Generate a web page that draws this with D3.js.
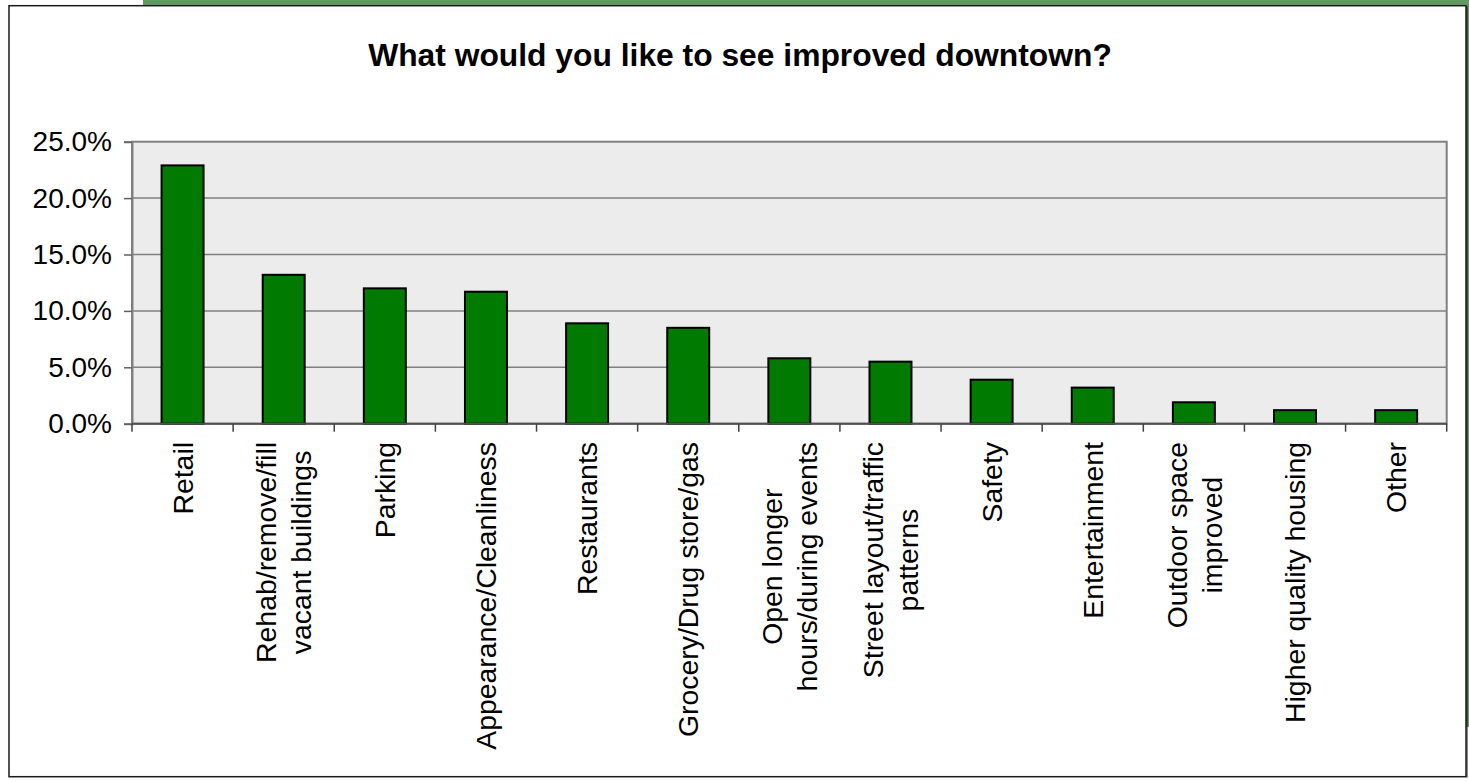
<!DOCTYPE html>
<html>
<head>
<meta charset="utf-8">
<script src="https://cdn.jsdelivr.net/npm/d3@7"></script>
<style>
  html, body { margin: 0; padding: 0; background: #ffffff; }
  svg { display: block; }
  text { font-family: "Liberation Sans", Arial, Helvetica, sans-serif; fill: #000; }
</style>
</head>
<body>
<svg id="chart" width="1469" height="782"></svg>
<script>
// ---- data ----
const title = "What would you like to see improved downtown?";
const categories = [
  "Retail",
  "Rehab/remove/fill\nvacant buildings",
  "Parking",
  "Appearance/Cleanliness",
  "Restaurants",
  "Grocery/Drug store/gas",
  "Open longer\nhours/during events",
  "Street layout/traffic\npatterns",
  "Safety",
  "Entertainment",
  "Outdoor space\nimproved",
  "Higher quality housing",
  "Other"
];
const values = [22.9, 13.2, 12.0, 11.7, 8.9, 8.5, 5.8, 5.5, 3.9, 3.2, 1.9, 1.2, 1.2];
const yTicks = [0, 5, 10, 15, 20, 25];

// ---- layout ----
const svg = d3.select("#chart");
const plot = { left: 132, top: 141.7, right: 1446.7, bottom: 423.7 };

// green background strip behind the white chart frame
svg.append("rect").attr("x", 143).attr("y", 0).attr("width", 1326).attr("height", 727)
  .attr("fill", "#619a61");
// white chart frame
svg.append("rect").attr("x", 9).attr("y", 5.7).attr("width", 1457).attr("height", 771)
  .attr("fill", "#ffffff").attr("stroke", "#1a1a1a").attr("stroke-width", 1.5);
svg.append("line").attr("x1", 1467).attr("x2", 1467).attr("y1", 6.5).attr("y2", 777.5)
  .attr("stroke", "#1a1a1a").attr("stroke-width", 1);

const x = d3.scaleBand().domain(categories).range([plot.left, plot.right]).padding(0);
const y = d3.scaleLinear().domain([0, 25]).range([plot.bottom, plot.top]);
const barFrac = 0.415;

// plot background
svg.append("rect").attr("x", plot.left).attr("y", plot.top)
  .attr("width", plot.right - plot.left).attr("height", plot.bottom - plot.top)
  .attr("fill", "#ececec").attr("stroke", "#808080").attr("stroke-width", 2);

// gridlines
svg.append("g").selectAll("line").data(yTicks.filter(d => d > 0 && d < 25)).join("line")
  .attr("x1", plot.left).attr("x2", plot.right)
  .attr("y1", d => y(d)).attr("y2", d => y(d))
  .attr("stroke", "#808080").attr("stroke-width", 1.5);

// bars
svg.append("g").selectAll("rect").data(values).join("rect")
  .attr("x", (d, i) => x(categories[i]) + x.bandwidth() * (1 - barFrac) / 2)
  .attr("width", x.bandwidth() * barFrac)
  .attr("y", d => y(d))
  .attr("height", d => y(0) - y(d))
  .attr("fill", "#007a00").attr("stroke", "#000").attr("stroke-width", 2);

// y axis
const yAxis = d3.axisLeft(y).tickValues(yTicks).tickSize(8).tickPadding(12)
  .tickFormat(d => d3.format(".1f")(d) + "%");
const gy = svg.append("g").attr("transform", `translate(${plot.left},0)`).call(yAxis);
gy.select(".domain").attr("stroke", "#808080").attr("stroke-width", 2);
gy.selectAll(".tick line").attr("stroke", "#606060").attr("stroke-width", 1.5);
gy.selectAll(".tick text").attr("font-size", 28).attr("font-family", '"Liberation Sans", Arial, sans-serif')
  .attr("fill", "#000");

// x axis line and ticks at category boundaries
const boundaries = categories.map(c => x(c)).concat([plot.right]);
svg.append("line").attr("x1", plot.left).attr("x2", plot.right)
  .attr("y1", y(0)).attr("y2", y(0)).attr("stroke", "#505050").attr("stroke-width", 2);
svg.append("g").selectAll("line").data(boundaries).join("line")
  .attr("x1", d => d).attr("x2", d => d)
  .attr("y1", y(0)).attr("y2", y(0) + 8)
  .attr("stroke", "#404040").attr("stroke-width", 1.5);

// category labels, rotated
const labelTop = 442;
const lineGap = 35;
categories.forEach((c, i) => {
  const lines = c.split("\n");
  const cx = x(c) + x.bandwidth() / 2;
  const g = svg.append("g").attr("transform", `translate(${cx},${labelTop}) rotate(-90)`);
  const texts = lines.map((ln, j) => g.append("text")
    .attr("font-size", 28.4)
    .attr("y", (j - (lines.length - 1) / 2) * lineGap)
    .attr("dy", "0.36em")
    .attr("text-anchor", "middle")
    .text(ln));
  const maxW = d3.max(texts, t => t.node().getComputedTextLength());
  texts.forEach(t => t.attr("x", -maxW / 2));
});

// title
svg.append("text").attr("x", 740).attr("y", 66)
  .attr("text-anchor", "middle").attr("font-size", 31.8).attr("font-weight", "bold")
  .text(title);
</script>
</body>
</html>
